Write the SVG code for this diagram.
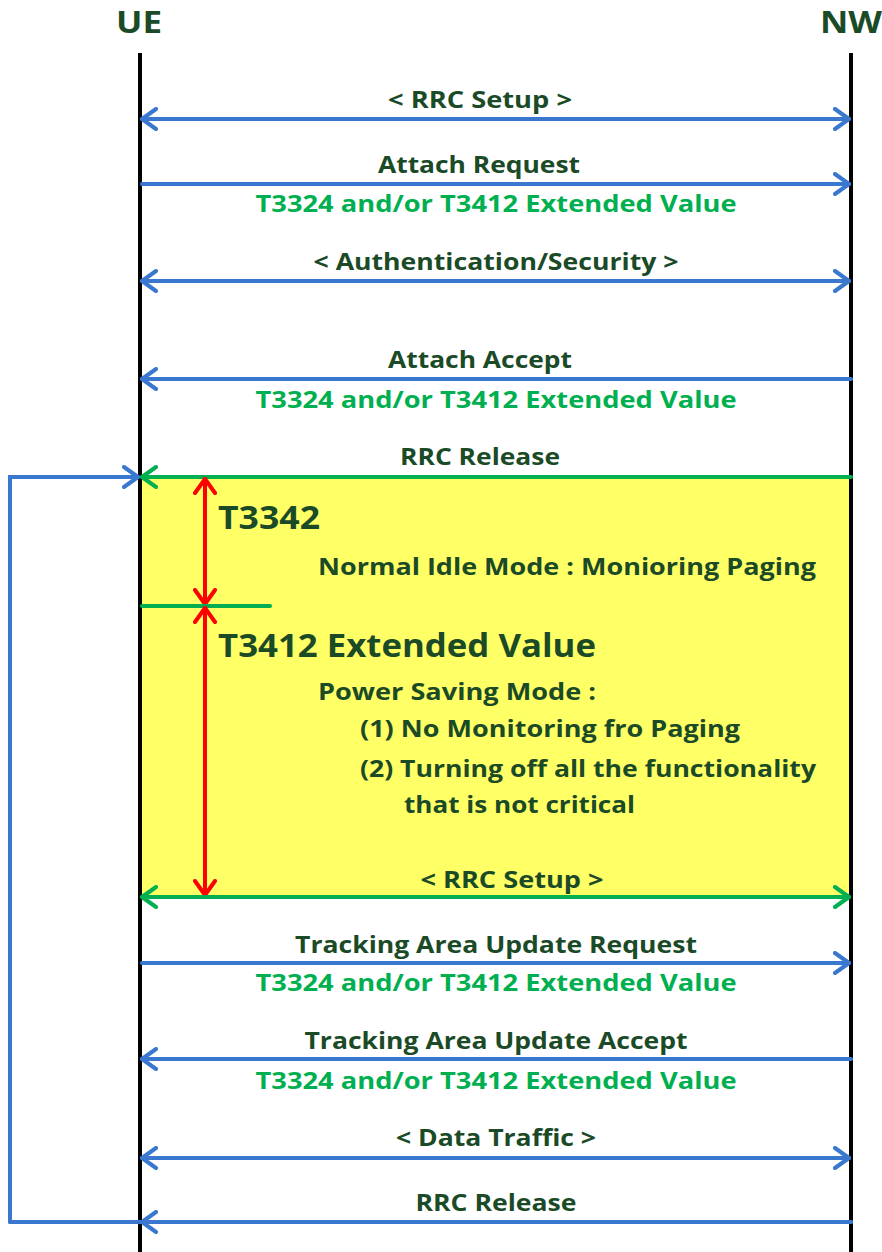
<svg xmlns="http://www.w3.org/2000/svg" width="882" height="1252" viewBox="0 0 882 1252">
<style>
text{font-family:"Open Sans","Liberation Sans",sans-serif;font-weight:bold;}
.d{fill:#1B4A27;font-size:23px;}
.g{fill:#00B050;font-size:23px;}
.big{fill:#1B4A27;font-size:33px;}
.hd{fill:#1B4A27;font-size:30px;}
.life{stroke:#000;stroke-width:4;fill:none;}
.bl{stroke:#3A78CF;stroke-width:4;fill:none;stroke-linecap:round;}
.gr{stroke:#00B050;stroke-width:4;fill:none;stroke-linecap:round;}
.rd{stroke:#FF0000;stroke-width:4;fill:none;stroke-linecap:round;}
</style>
<defs>
<marker id="ab" markerUnits="userSpaceOnUse" viewBox="-16 -12 20 24" markerWidth="20" markerHeight="24" refX="0" refY="0" orient="auto-start-reverse"><path d="M-14,-10 L0,0 L-14,10" fill="none" stroke="#3A78CF" stroke-width="4" stroke-linecap="round" stroke-linejoin="round"/></marker>
<marker id="ag" markerUnits="userSpaceOnUse" viewBox="-16 -12 20 24" markerWidth="20" markerHeight="24" refX="0" refY="0" orient="auto-start-reverse"><path d="M-14,-10 L0,0 L-14,10" fill="none" stroke="#00B050" stroke-width="4" stroke-linecap="round" stroke-linejoin="round"/></marker>
<marker id="ar" markerUnits="userSpaceOnUse" viewBox="-16 -12 20 24" markerWidth="20" markerHeight="24" refX="0" refY="0" orient="auto-start-reverse"><path d="M-14,-10 L0,0 L-14,10" fill="none" stroke="#FF0000" stroke-width="4" stroke-linecap="round" stroke-linejoin="round"/></marker>
</defs>
<rect width="882" height="1252" fill="#fff"/>
<g id="psm-region">
<rect x="140" y="477" width="711" height="420" fill="#FFFF66"/>
</g>
<g id="ue"><text class="hd" x="139" y="33" text-anchor="middle" textLength="46" lengthAdjust="spacingAndGlyphs">UE</text><line class="life" x1="140" y1="53" x2="140" y2="1252"/></g>
<g id="nw"><text class="hd" x="851" y="33" text-anchor="middle" textLength="62" lengthAdjust="spacingAndGlyphs">NW</text><line class="life" x1="851" y1="53" x2="851" y2="1252"/></g>
<g id="connectors">
<line class="bl" x1="142" y1="119" x2="849" y2="119" marker-start="url(#ab)" marker-end="url(#ab)"/>
<line class="bl" x1="142" y1="184" x2="849" y2="184" marker-end="url(#ab)"/>
<line class="bl" x1="142" y1="281" x2="849" y2="281" marker-start="url(#ab)" marker-end="url(#ab)"/>
<line class="bl" x1="851" y1="379" x2="142" y2="379" marker-end="url(#ab)"/>
<line class="gr" x1="851" y1="477" x2="142" y2="477" marker-end="url(#ag)"/>
<polyline class="bl" points="10,1222 10,477 138,477" marker-end="url(#ab)"/>
<line class="rd" x1="205" y1="479" x2="205" y2="604" marker-start="url(#ar)" marker-end="url(#ar)"/>
<line class="gr" x1="142" y1="606" x2="270" y2="606"/>
<line class="rd" x1="205" y1="608" x2="205" y2="895" marker-start="url(#ar)" marker-end="url(#ar)"/>
<line class="gr" x1="142" y1="897" x2="849" y2="897" marker-start="url(#ag)" marker-end="url(#ag)"/>
<line class="bl" x1="142" y1="963" x2="849" y2="963" marker-end="url(#ab)"/>
<line class="bl" x1="851" y1="1059" x2="142" y2="1059" marker-end="url(#ab)"/>
<line class="bl" x1="142" y1="1158" x2="849" y2="1158" marker-start="url(#ab)" marker-end="url(#ab)"/>
<polyline class="bl" points="851,1222 10,1222"/>
<line class="bl" x1="851" y1="1222" x2="142" y2="1222" marker-end="url(#ab)"/>
</g>
<g id="msg-rrc-setup-1"><text class="d" x="480" y="108" text-anchor="middle" textLength="184" lengthAdjust="spacingAndGlyphs">&lt; RRC Setup &gt;</text></g>
<g id="msg-attach-request"><text class="d" x="479" y="173" text-anchor="middle" textLength="202" lengthAdjust="spacingAndGlyphs">Attach Request</text><text class="g" x="496" y="212" text-anchor="middle" textLength="481" lengthAdjust="spacingAndGlyphs">T3324 and/or T3412 Extended Value</text></g>
<g id="msg-auth"><text class="d" x="496" y="270" text-anchor="middle" textLength="365" lengthAdjust="spacingAndGlyphs">&lt; Authentication/Security &gt;</text></g>
<g id="msg-attach-accept"><text class="d" x="480" y="368" text-anchor="middle" textLength="184" lengthAdjust="spacingAndGlyphs">Attach Accept</text><text class="g" x="496" y="408" text-anchor="middle" textLength="481" lengthAdjust="spacingAndGlyphs">T3324 and/or T3412 Extended Value</text></g>
<g id="msg-rrc-release-1"><text class="d" x="480" y="465" text-anchor="middle" textLength="160" lengthAdjust="spacingAndGlyphs">RRC Release</text></g>
<g id="t3342"><text class="big" x="218" y="529" textLength="102" lengthAdjust="spacingAndGlyphs">T3342</text><text class="d" x="318" y="575" textLength="498" lengthAdjust="spacingAndGlyphs">Normal Idle Mode : Monioring Paging</text></g>
<g id="t3412"><text class="big" x="218" y="657" textLength="378" lengthAdjust="spacingAndGlyphs">T3412 Extended Value</text>
<text class="d" x="318" y="700" textLength="278" lengthAdjust="spacingAndGlyphs">Power Saving Mode :</text>
<text class="d" x="360" y="737" textLength="380" lengthAdjust="spacingAndGlyphs">(1) No Monitoring fro Paging</text>
<text class="d" x="360" y="777" textLength="456" lengthAdjust="spacingAndGlyphs">(2) Turning off all the functionality</text>
<text class="d" x="404" y="813" textLength="231" lengthAdjust="spacingAndGlyphs">that is not critical</text></g>
<g id="msg-rrc-setup-2"><text class="d" x="512" y="888" text-anchor="middle" textLength="183" lengthAdjust="spacingAndGlyphs">&lt; RRC Setup &gt;</text></g>
<g id="msg-tau-request"><text class="d" x="496" y="953" text-anchor="middle" textLength="402" lengthAdjust="spacingAndGlyphs">Tracking Area Update Request</text><text class="g" x="496" y="991" text-anchor="middle" textLength="481" lengthAdjust="spacingAndGlyphs">T3324 and/or T3412 Extended Value</text></g>
<g id="msg-tau-accept"><text class="d" x="496" y="1049" text-anchor="middle" textLength="383" lengthAdjust="spacingAndGlyphs">Tracking Area Update Accept</text><text class="g" x="496" y="1089" text-anchor="middle" textLength="481" lengthAdjust="spacingAndGlyphs">T3324 and/or T3412 Extended Value</text></g>
<g id="msg-data"><text class="d" x="496" y="1146" text-anchor="middle" textLength="200" lengthAdjust="spacingAndGlyphs">&lt; Data Traffic &gt;</text></g>
<g id="msg-rrc-release-2"><text class="d" x="496" y="1211" text-anchor="middle" textLength="161" lengthAdjust="spacingAndGlyphs">RRC Release</text></g>
</svg>
